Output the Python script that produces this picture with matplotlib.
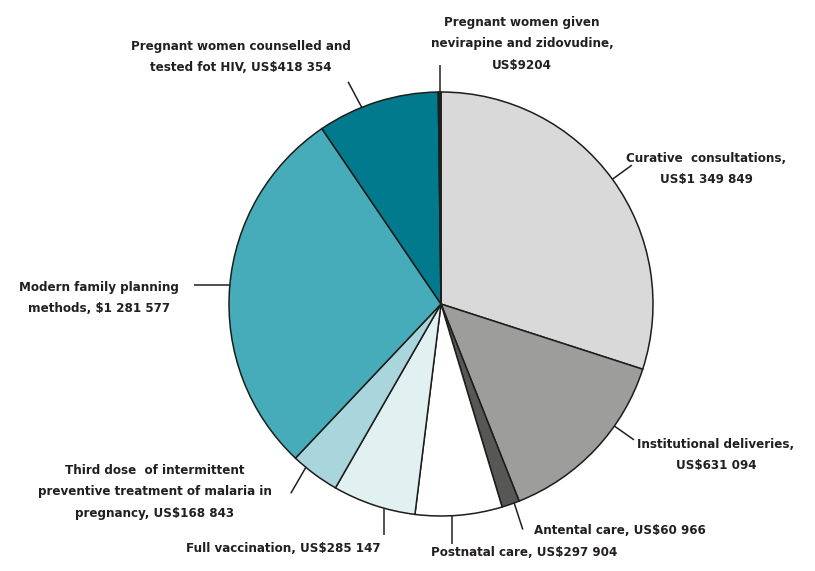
import matplotlib
matplotlib.use("Agg")
import matplotlib.pyplot as plt
import numpy as np

labels = ["Curative  consultations,\nUS$1 349 849",
          "Institutional deliveries,\nUS$631 094",
          "Antental care, US$60 966",
          "Postnatal care, US$297 904",
          "Full vaccination, US$285 147",
          "Third dose  of intermittent\npreventive treatment of malaria in\npregnancy, US$168 843",
          "Modern family planning\nmethods, $1 281 577",
          "Pregnant women counselled and\ntested fot HIV, US$418 354",
          "Pregnant women given\nnevirapine and zidovudine,\nUS$9204"]
values = [1349849, 631094, 60966, 297904, 285147, 168843, 1281577, 418354, 9204]
colors = ["#d9d9d9", "#9d9d9c", "#575756", "#ffffff", "#e1f0f1", "#a9d5dc",
          "#47acba", "#007a8c", "#1d1d1b"]

W, H = 815, 571
fig = plt.figure(figsize=(W/100, H/100), dpi=100)
ax = fig.add_axes([0, 0, 1, 1])

cx, cy, R = 441, H - 304, 212
wedges, _ = ax.pie(values, colors=colors, startangle=90, counterclock=False,
                   center=(cx, cy), radius=R, frame=True,
                   wedgeprops=dict(edgecolor="#1d1d1b", linewidth=1.1))
ax.set_xlim(0, W)
ax.set_ylim(0, H)
ax.set_aspect("equal")
ax.axis("off")

# leader lines: anchor offset from wedge middle (deg, clockwise), direction (compass deg), length (px)
anchor_off = [0, -8, -1, 2, -3, 3, 0.5, -4.5, 0]
direction = [None, None, 162, 180, 180, 210, 270, 332, 0]
length = [24, 24, 28, 28, 27, 30, 36, 29, 27]
# text centres (pixel coords from top-left)
tpos = [(706, 169), (716, 455), (620, 531), (524, 553), (283, 548),
        (155, 492), (99, 298), (241, 57), (522, 44)]
tc = "#231f20"
for w, off, d, L, lab, (tx, ty) in zip(wedges, anchor_off, direction, length, labels, tpos):
    mid = np.deg2rad((w.theta1 + w.theta2) / 2 - off)
    x0, y0 = cx + R*np.cos(mid), cy + R*np.sin(mid)
    if d is None:
        ang = mid
    else:
        ang = np.deg2rad(90 - d)
    x1, y1 = x0 + L*np.cos(ang), y0 + L*np.sin(ang)
    ax.plot([x0, x1], [y0, y1], color=tc, lw=1.1, solid_capstyle="butt")
    ax.text(tx, H - ty, lab, ha="center", va="center", family="DejaVu Sans",
            fontstretch="condensed", fontweight="bold", fontsize=9.5,
            color=tc, linespacing=1.85)

fig.savefig("out.png", dpi=100)
